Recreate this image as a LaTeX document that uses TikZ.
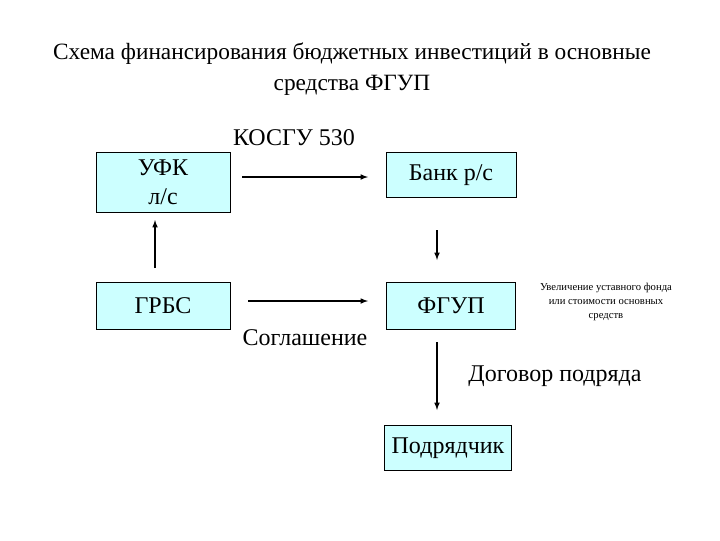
\documentclass[tikz,border=0pt]{standalone}
\usepackage{fontspec}
\setmainfont{Liberation Serif}
\definecolor{boxfill}{HTML}{CCFFFF}
\begin{document}
\begin{tikzpicture}[x=0.75pt,y=-0.75pt,
 box/.style={draw,fill=boxfill,line width=0.5pt,inner sep=0pt,font=\fontsize{18}{22}\selectfont,align=center},
 arr/.style={-latex,line width=0.9pt},
 lbl/.style={font=\fontsize{18}{22}\selectfont}]
\useasboundingbox (0,0) rectangle (720,540);
\node[font=\fontsize{17.5}{23}\selectfont,align=center] (t) at (352,69) {Схема финансирования бюджетных инвестиций в основные\\средства ФГУП};
\node[box,minimum width=134*0.75pt,minimum height=60*0.75pt] (ufk) at (163,182) {УФК\\л/с};
\node[box,minimum width=130*0.75pt,minimum height=45*0.75pt] (bank) at (451,175) {Банк р/с};
\node[box,minimum width=134*0.75pt,minimum height=47*0.75pt] (grbs) at (163,306) {ГРБС};
\node[box,minimum width=129*0.75pt,minimum height=47*0.75pt] (fgup) at (451,306) {ФГУП};
\node[box,minimum width=127*0.75pt,minimum height=45*0.75pt] (pod) at (448,448) {Подрядчик};
\coordinate (a1) at (242,177); \coordinate (a2) at (368,177);
\draw[arr] (a1) -- (a2);
\coordinate (b1) at (437,230); \coordinate (b2) at (437,260);
\draw[arr] (b1) -- (b2);
\coordinate (c1) at (155,268); \coordinate (c2) at (155,220);
\draw[arr] (c1) -- (c2);
\coordinate (d1) at (248,301); \coordinate (d2) at (368,301);
\draw[arr] (d1) -- (d2);
\coordinate (e1) at (437,342); \coordinate (e2) at (437,410);
\draw[arr] (e1) -- (e2);
\node[lbl] (k) at (294,138) {КОСГУ 530};
\node[lbl] (s) at (305,338) {Соглашение};
\node[lbl] (d) at (555,376) {Договор подряда};
\node[font=\fontsize{8}{10.5}\selectfont,align=center] (u) at (606,302) {Увеличение уставного фонда\\или стоимости основных\\средств};
\end{tikzpicture}
\end{document}
